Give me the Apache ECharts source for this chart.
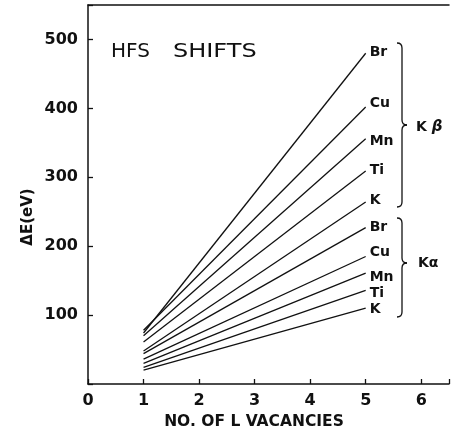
<!DOCTYPE html>
<html>
<head>
<meta charset="utf-8">
<script src="https://cdn.jsdelivr.net/npm/echarts@6/dist/echarts.min.js"></script>
<style>
  html, body { margin: 0; padding: 0; background: #fff; }
  #chart { width: 452px; height: 431px; }
</style>
</head>
<body>
<div id="chart"></div>
<script>
// Number of L-shell vacancies at which each shift was evaluated
const vacancies = [1, 5];

// K-beta hyperfine shifts (eV)
const kbBr = [74, 480];
const kbCu = [78, 402];
const kbMn = [70, 356];
const kbTi = [61, 309];
const kbK  = [48, 264];

// K-alpha hyperfine shifts (eV)
const kaBr = [44, 227];
const kaCu = [36, 185];
const kaMn = [30, 161];
const kaTi = [24, 136];
const kaK  = [20, 110];

const xTicks = [0, 1, 2, 3, 4, 5, 6];
const yTicks = [100, 200, 300, 400, 500];

const FONT = '"DejaVu Sans", sans-serif';
const INK = '#111';

// series name, values, vertical nudge of the element label
const lines = [
  ['Br', kbBr, -1], ['Cu', kbCu, -4], ['Mn', kbMn, 3], ['Ti', kbTi, -1], ['K', kbK, -2],
  ['Br', kaBr, 0],  ['Cu', kaCu, -4], ['Mn', kaMn, 4], ['Ti', kaTi, 3],  ['K', kaK, 1]
];

const series = lines.map(([name, vals, dy]) => ({
  type: 'line',
  name: name,
  symbol: 'circle',
  symbolSize: 0,
  showSymbol: true,
  silent: true,
  lineStyle: { color: INK, width: 1.3 },
  itemStyle: { color: INK },
  data: vacancies.map((v, i) => {
    const item = { value: [v, vals[i]] };
    if (i === vacancies.length - 1) {
      item.label = {
        show: true, position: 'right', distance: 4, offset: [0, dy],
        formatter: name, color: INK, fontFamily: FONT, fontWeight: 'bold', fontSize: 14
      };
    }
    return item;
  })
}));

// Right-facing curly brace between y0 and y1 with its point at ym
function brace(y0, ym, y1) {
  const xs = 402, xt = 407, xl = 397, r = 5;
  const st = { stroke: INK, lineWidth: 1.3, fill: null };
  const curve = (x1, y1, cx, cy, x2, y2) => ({
    type: 'bezierCurve', silent: true,
    shape: { x1: x1, y1: y1, cpx1: cx, cpy1: cy, x2: x2, y2: y2 }, style: st
  });
  const seg = (ya, yb) => ({
    type: 'line', silent: true, shape: { x1: xs, y1: ya, x2: xs, y2: yb }, style: st
  });
  return [
    curve(xl, y0, xs, y0, xs, y0 + r),
    seg(y0 + r, ym - r),
    curve(xs, ym - r, xs, ym, xt, ym),
    curve(xt, ym, xs, ym, xs, ym + r),
    seg(ym + r, y1 - r),
    curve(xs, y1 - r, xs, y1, xl, y1)
  ];
}

const chart = echarts.init(document.getElementById('chart'), null, { renderer: 'canvas' });
chart.setOption({
  animation: false,
  backgroundColor: '#fff',
  grid: { left: 88, right: 1, top: 5, bottom: 47 },
  xAxis: [{
    type: 'value', min: 0, max: 6.5, interval: 1,
    axisLine: { show: true, lineStyle: { color: INK, width: 1.5 } },
    axisTick: { show: true, inside: true, length: 5, lineStyle: { color: INK, width: 1.3 } },
    splitLine: { show: false },
    axisLabel: {
      margin: 9, color: INK, fontFamily: FONT, fontWeight: 'bold', fontSize: 16,
      formatter: v => xTicks.includes(v) ? String(v) : ''
    }
  }, {
    type: 'value', position: 'top', min: 0, max: 6.5,
    axisLine: { show: true, onZero: false, lineStyle: { color: INK, width: 1.5 } },
    axisTick: { show: false }, axisLabel: { show: false }, splitLine: { show: false }
  }],
  yAxis: {
    type: 'value', min: 0, max: 550, interval: 100,
    axisLine: { show: true, lineStyle: { color: INK, width: 1.5 } },
    axisTick: { show: true, inside: true, length: 5, lineStyle: { color: INK, width: 1.3 } },
    splitLine: { show: false },
    axisLabel: {
      margin: 10, color: INK, fontFamily: FONT, fontWeight: 'bold', fontSize: 16,
      formatter: v => yTicks.includes(v) ? String(v) : ''
    }
  },
  series: series,
  graphic: [
    { type: 'text', x: 111, y: 52,
      style: { text: 'HFS', fill: INK, font: '20px ' + FONT, textVerticalAlign: 'middle' } },
    { type: 'text', x: 173, y: 52, scaleX: 1.2,
      style: { text: 'SHIFTS', fill: INK, font: '20px ' + FONT, textVerticalAlign: 'middle' } },
    { type: 'text', x: 28, y: 217, rotation: Math.PI / 2,
      style: { text: 'ΔE(eV)', fill: INK, font: 'bold 15px ' + FONT, textAlign: 'center', textVerticalAlign: 'middle' } },
    { type: 'text', x: 254, y: 422,
      style: { text: 'NO. OF L VACANCIES', fill: INK, font: 'bold 15.5px ' + FONT, textAlign: 'center', textVerticalAlign: 'middle' } },
    ...brace(43, 125, 207),
    ...brace(218, 263, 317),
    { type: 'text', x: 416, y: 127,
      style: { text: 'K {b|β}', fill: INK, font: 'bold 14px ' + FONT, textVerticalAlign: 'middle',
        rich: { b: { fontStyle: 'italic', fontWeight: 'bold', fontSize: 15, fontFamily: FONT } } } },
    { type: 'text', x: 418, y: 263,
      style: { text: 'Kα', fill: INK, font: 'bold 14px ' + FONT, textVerticalAlign: 'middle' } }
  ]
});
</script>
</body>
</html>
